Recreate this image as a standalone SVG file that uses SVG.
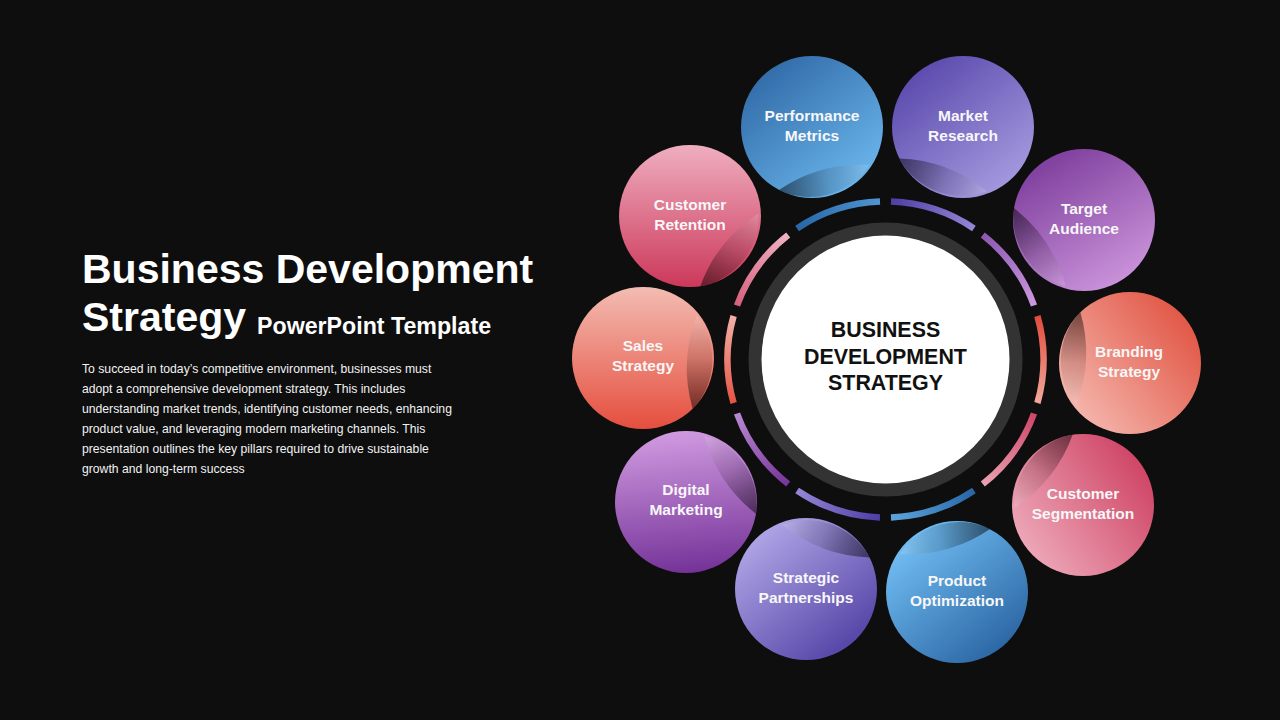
<svg xmlns="http://www.w3.org/2000/svg" width="1280" height="720" viewBox="0 0 1280 720">
<style>
.bg{fill:#0e0e0f}
.title{font-family:"Liberation Sans",Arial,sans-serif;font-weight:bold;fill:#ffffff}
.body{font-family:"Liberation Sans",Arial,sans-serif;font-size:12.2px;fill:#f2f2f2}
.lbl{font-family:"Liberation Sans",Arial,sans-serif;font-weight:bold;font-size:15.5px;fill:#f7f7f7;text-anchor:middle}
.ctr{font-family:"Liberation Sans",Arial,sans-serif;font-weight:bold;font-size:21.4px;fill:#111111;text-anchor:middle}
.seg{fill:none;stroke-width:6.5}
.fold{fill:url(#gFold)}
</style>
<defs>
<linearGradient id="gFold" x1="0" y1="1" x2="0" y2="0">
<stop offset="0" stop-color="#000" stop-opacity="0.5"/>
<stop offset="0.55" stop-color="#000" stop-opacity="0.12"/>
<stop offset="1" stop-color="#fff" stop-opacity="0.16"/>
</linearGradient>
<linearGradient id="cPerf" x1="0.1" y1="0" x2="0.9" y2="1"><stop offset="0" stop-color="#2c64a2"/><stop offset="1" stop-color="#70bdf3"/></linearGradient>
<linearGradient id="cMark" x1="0.1" y1="0" x2="0.9" y2="1"><stop offset="0" stop-color="#5442a8"/><stop offset="1" stop-color="#aca2e4"/></linearGradient>
<linearGradient id="cTarg" x1="0.2" y1="0" x2="0.8" y2="1"><stop offset="0" stop-color="#7a3a9a"/><stop offset="1" stop-color="#cf98de"/></linearGradient>
<linearGradient id="cBran" x1="1" y1="0.1" x2="0" y2="0.9"><stop offset="0" stop-color="#df4c3a"/><stop offset="1" stop-color="#f7c0b8"/></linearGradient>
<linearGradient id="cSegm" x1="1" y1="0.15" x2="0" y2="0.85"><stop offset="0" stop-color="#cc3c5e"/><stop offset="1" stop-color="#f0b0c0"/></linearGradient>
<linearGradient id="cProd" x1="0.15" y1="0.1" x2="0.85" y2="0.95"><stop offset="0" stop-color="#72bff4"/><stop offset="1" stop-color="#2862a0"/></linearGradient>
<linearGradient id="cStra" x1="0.15" y1="0.1" x2="0.85" y2="0.95"><stop offset="0" stop-color="#b0a6e6"/><stop offset="1" stop-color="#5040a4"/></linearGradient>
<linearGradient id="cDigi" x1="0.45" y1="0" x2="0.55" y2="1"><stop offset="0" stop-color="#d09ae0"/><stop offset="1" stop-color="#743298"/></linearGradient>
<linearGradient id="cSale" x1="0.5" y1="0" x2="0.5" y2="1"><stop offset="0" stop-color="#f3bcb2"/><stop offset="1" stop-color="#e54e3e"/></linearGradient>
<linearGradient id="cRete" x1="0.5" y1="0" x2="0.5" y2="1"><stop offset="0" stop-color="#efaec0"/><stop offset="1" stop-color="#cc385a"/></linearGradient>
<linearGradient id="sBran" gradientUnits="userSpaceOnUse" x1="1037.4" y1="316" x2="1037.4" y2="403"><stop offset="0" stop-color="#e04c3c"/><stop offset="1" stop-color="#f3a89c"/></linearGradient>
<linearGradient id="sSegm" gradientUnits="userSpaceOnUse" x1="1034" y1="413.5" x2="982.8" y2="484"><stop offset="0" stop-color="#cf4668"/><stop offset="1" stop-color="#eaa2b2"/></linearGradient>
<linearGradient id="sProd" gradientUnits="userSpaceOnUse" x1="973.9" y1="490.5" x2="891" y2="517.4"><stop offset="0" stop-color="#2866a6"/><stop offset="1" stop-color="#5ea4dc"/></linearGradient>
<linearGradient id="sStra" gradientUnits="userSpaceOnUse" x1="880" y1="517.4" x2="797.1" y2="490.5"><stop offset="0" stop-color="#4e3ea6"/><stop offset="1" stop-color="#9686d6"/></linearGradient>
<linearGradient id="sDigi" gradientUnits="userSpaceOnUse" x1="788.2" y1="484" x2="737" y2="413.5"><stop offset="0" stop-color="#76369a"/><stop offset="1" stop-color="#b888d0"/></linearGradient>
<linearGradient id="sSale" gradientUnits="userSpaceOnUse" x1="733.6" y1="403" x2="733.6" y2="316"><stop offset="0" stop-color="#e65444"/><stop offset="1" stop-color="#f3b0a6"/></linearGradient>
<linearGradient id="sRete" gradientUnits="userSpaceOnUse" x1="737" y1="305.5" x2="788.2" y2="235"><stop offset="0" stop-color="#d6607e"/><stop offset="1" stop-color="#efb2c2"/></linearGradient>
<linearGradient id="sPerf" gradientUnits="userSpaceOnUse" x1="797.1" y1="228.5" x2="880" y2="201.6"><stop offset="0" stop-color="#2866a6"/><stop offset="1" stop-color="#5094d2"/></linearGradient>
<linearGradient id="sMark" gradientUnits="userSpaceOnUse" x1="891" y1="201.6" x2="973.9" y2="228.5"><stop offset="0" stop-color="#4e3ea6"/><stop offset="1" stop-color="#9686d6"/></linearGradient>
<linearGradient id="sTarg" gradientUnits="userSpaceOnUse" x1="982.8" y1="235" x2="1034" y2="305.5"><stop offset="0" stop-color="#8c58b2"/><stop offset="1" stop-color="#cc98de"/></linearGradient>
<path id="foldShape" d="M53.7,-42.5 Q36,4 49.7,50.9 A71,71 0 0 0 53.7,-42.5 Z"/>
</defs>

<rect class="bg" x="0" y="0" width="1280" height="720"/>

<g id="title">
<text class="title" x="82" y="283" font-size="41">Business Development</text>
<text class="title" x="82" y="331" font-size="41">Strategy</text>
<text class="title" x="257" y="334" font-size="23.2">PowerPoint Template</text>
</g>

<g id="description">
<text class="body" x="82" y="372.5">To succeed in today’s competitive environment, businesses must</text>
<text class="body" x="82" y="392.5">adopt a comprehensive development strategy. This includes</text>
<text class="body" x="82" y="412.5">understanding market trends, identifying customer needs, enhancing</text>
<text class="body" x="82" y="432.5">product value, and leveraging modern marketing channels. This</text>
<text class="body" x="82" y="452.5">presentation outlines the key pillars required to drive sustainable</text>
<text class="body" x="82" y="472.5">growth and long-term success</text>
</g>

<g id="connectors">
<path class="seg" stroke="url(#sBran)" d="M1037.4,316 A158,158 0 0 1 1037.4,403"/>
<path class="seg" stroke="url(#sSegm)" d="M1034,413.5 A158,158 0 0 1 982.8,484"/>
<path class="seg" stroke="url(#sProd)" d="M973.9,490.5 A158,158 0 0 1 891,517.4"/>
<path class="seg" stroke="url(#sStra)" d="M880,517.4 A158,158 0 0 1 797.1,490.5"/>
<path class="seg" stroke="url(#sDigi)" d="M788.2,484 A158,158 0 0 1 737,413.5"/>
<path class="seg" stroke="url(#sSale)" d="M733.6,403 A158,158 0 0 1 733.6,316"/>
<path class="seg" stroke="url(#sRete)" d="M737,305.5 A158,158 0 0 1 788.2,235"/>
<path class="seg" stroke="url(#sPerf)" d="M797.1,228.5 A158,158 0 0 1 880,201.6"/>
<path class="seg" stroke="url(#sMark)" d="M891,201.6 A158,158 0 0 1 973.9,228.5"/>
<path class="seg" stroke="url(#sTarg)" d="M982.8,235 A158,158 0 0 1 1034,305.5"/>
</g>

<g id="center">
<circle cx="885.5" cy="359.5" r="130.5" fill="#ffffff" stroke="#333333" stroke-width="13"/>
<text class="ctr" x="885.5" y="337">BUSINESS</text>
<text class="ctr" x="885.5" y="363.5">DEVELOPMENT</text>
<text class="ctr" x="885.5" y="390">STRATEGY</text>
</g>

<g id="n-performance">
<circle cx="812" cy="127" r="71" fill="url(#cPerf)"/>
<use href="#foldShape" class="fold" transform="translate(812,127) rotate(72)"/>
<text class="lbl" x="812" y="121">Performance</text>
<text class="lbl" x="812" y="141">Metrics</text>
</g>

<g id="n-market">
<circle cx="963" cy="127" r="71" fill="url(#cMark)"/>
<use href="#foldShape" class="fold" transform="translate(963,127) rotate(108)"/>
<text class="lbl" x="963" y="121">Market</text>
<text class="lbl" x="963" y="141">Research</text>
</g>

<g id="n-target">
<circle cx="1084" cy="220" r="71" fill="url(#cTarg)"/>
<use href="#foldShape" class="fold" transform="translate(1084,220) rotate(144)"/>
<text class="lbl" x="1084" y="214">Target</text>
<text class="lbl" x="1084" y="234">Audience</text>
</g>

<g id="n-branding">
<circle cx="1130" cy="363" r="71" fill="url(#cBran)"/>
<use href="#foldShape" class="fold" transform="translate(1130,363) rotate(180)"/>
<text class="lbl" x="1129" y="357">Branding</text>
<text class="lbl" x="1129" y="377">Strategy</text>
</g>

<g id="n-segmentation">
<circle cx="1083" cy="505" r="71" fill="url(#cSegm)"/>
<use href="#foldShape" class="fold" transform="translate(1083,505) rotate(216)"/>
<text class="lbl" x="1083" y="499">Customer</text>
<text class="lbl" x="1083" y="519">Segmentation</text>
</g>

<g id="n-product">
<circle cx="957" cy="592" r="71" fill="url(#cProd)"/>
<use href="#foldShape" class="fold" transform="translate(957,592) rotate(252)"/>
<text class="lbl" x="957" y="586">Product</text>
<text class="lbl" x="957" y="606">Optimization</text>
</g>

<g id="n-strategic">
<circle cx="806" cy="589" r="71" fill="url(#cStra)"/>
<use href="#foldShape" class="fold" transform="translate(806,589) rotate(288)"/>
<text class="lbl" x="806" y="583">Strategic</text>
<text class="lbl" x="806" y="603">Partnerships</text>
</g>

<g id="n-digital">
<circle cx="686" cy="502" r="71" fill="url(#cDigi)"/>
<use href="#foldShape" class="fold" transform="translate(686,502) rotate(324)"/>
<text class="lbl" x="686" y="495">Digital</text>
<text class="lbl" x="686" y="515">Marketing</text>
</g>

<g id="n-sales">
<circle cx="643" cy="358" r="71" fill="url(#cSale)"/>
<use href="#foldShape" class="fold" transform="translate(643,358) rotate(0)"/>
<text class="lbl" x="643" y="351">Sales</text>
<text class="lbl" x="643" y="371">Strategy</text>
</g>

<g id="n-retention">
<circle cx="690" cy="216" r="71" fill="url(#cRete)"/>
<use href="#foldShape" class="fold" transform="translate(690,216) rotate(36)"/>
<text class="lbl" x="690" y="210">Customer</text>
<text class="lbl" x="690" y="230">Retention</text>
</g>
</svg>
